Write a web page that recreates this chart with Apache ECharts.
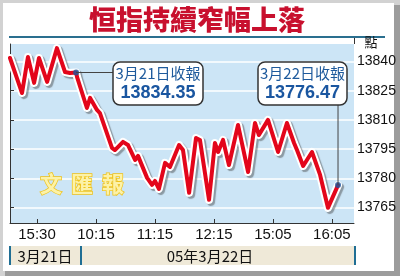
<!DOCTYPE html>
<html><head><meta charset="utf-8">
<style>html,body{margin:0;padding:0;background:#fff;}#c{width:400px;height:276px;}</style>
<script src="https://cdn.jsdelivr.net/npm/echarts@6/dist/echarts.min.js"></script>
</head><body><div id="c"></div>
<script>
// Timeline position (index units along the session axis) and index level
var xPos = [0,4.9,7.3,9.8,11.8,15.1,19.1,22.4,24.4,26.9,
  27.3,31.3,32.6,35.4,36.6,41.5,42.7,46.0,48.0,50.9,52.1,55.8,57.8,59.0,60.6,63.1,65.1,68.8,70.4,72.9,
  75.7,77.3,81.0,83.4,84.7,86.7,89.1,92.8,96.9,99.7,101.3,105.0,109.1,112.7,115.6,116.8,119.3,122.9,126.2,129.4,133.5];
var hsi = [13841.8,13823.8,13842.3,13829.0,13841.8,13829.5,13846.9,13834.6,13834.1,13834.35,
  13832.0,13816.1,13821.3,13815.1,13813.5,13795.6,13794.5,13798.7,13797.1,13789.4,13791.5,13780.2,13776.6,13778.6,13774.5,13787.9,13785.8,13797.1,13794.5,13772.5,
  13800.7,13799.7,13768.9,13798.1,13793.5,13799.7,13786.8,13807.4,13783.2,13808.4,13802.2,13810.0,13793.5,13808.4,13798.1,13794.5,13786.3,13793.5,13781.7,13764.8,13776.47];
var closeIdx = [9, 50];
var closeLabels = ['3月21日收報','3月22日收報'];
var closeValues = ['13834.35','13776.47'];
var xTickPos = [11,35,59,83,107,131];
var xLabels = ['15:30','10:15','11:15','12:15','15:05','16:05'];
var yTicks = [13765,13780,13795,13810,13825,13840];
var title = '恒指持續窄幅上落';
var unitLabel = '點';
var day1Label = '3月21日';
var day2Label = '05年3月22日';
var watermark = ['文','匯','報'];

var pts = xPos.map(function(x,i){return [x,hsi[i]];});
var closePts = closeIdx.map(function(i){return [xPos[i],hsi[i]];});

var chart = echarts.init(document.getElementById('c'), null, {renderer:'canvas'});
var numFont = '"Liberation Sans", Arial, sans-serif';
var cjk = '"Noto Sans CJK TC", "Noto Sans CJK SC", sans-serif';

var option = {
  animation:false,
  backgroundColor:'transparent',
  grid:{left:10,right:46,top:44,bottom:53,show:true,backgroundColor:'#cce5f6',borderWidth:0},
  xAxis:{type:'value',min:0,max:140,
    axisLine:{show:true,onZero:false,lineStyle:{color:'#333',width:1}},
    axisTick:{show:true,inside:true,length:4,customValues:xTickPos,lineStyle:{color:'#333'}},
    axisLabel:{customValues:xTickPos,margin:4,fontSize:15,color:'#111',fontFamily:numFont,
      formatter:function(v){var k=xTickPos.indexOf(v);return k>=0?xLabels[k]:'';}},
    splitLine:{show:false}},
  yAxis:{type:'value',position:'right',min:13757,max:13849,
    axisLine:{show:true,lineStyle:{color:'#333',width:1}},
    axisTick:{show:true,inside:false,length:4,customValues:yTicks,lineStyle:{color:'#333'}},
    axisLabel:{customValues:yTicks,margin:3,fontSize:14,color:'#111',fontFamily:numFont,
      formatter:function(v){return String(v);}},
    splitLine:{show:true,lineStyle:{color:'#ffffff',width:1.5}}},
  series:[
    {type:'line',data:pts,symbol:'none',z:2,silent:true,
      lineStyle:{color:'#ffffff',width:8,cap:'round',join:'round',shadowColor:'rgba(60,60,60,0.45)',shadowOffsetX:2,shadowOffsetY:2,shadowBlur:1}},
    {type:'line',data:pts,symbol:'none',z:3,silent:true,
      lineStyle:{color:'#e3061b',width:4,cap:'round',join:'round'}},
    {type:'scatter',data:closePts,symbol:'circle',symbolSize:6,z:6,itemStyle:{color:'#1a56a0'}}
  ]
};
chart.setOption(option);

var p1 = chart.convertToPixel({gridIndex:0}, closePts[0]);
var p2 = chart.convertToPixel({gridIndex:0}, closePts[1]);
var box1 = {x:113,y:62,w:90,h:43};
var box2 = {x:258,y:62,w:89,h:43};

function boxEls(b, i){
  return [
    {type:'rect',shape:{x:b.x,y:b.y,width:b.w,height:b.h,r:7},style:{fill:'#fff',stroke:'#333',lineWidth:1.5},z:20},
    {type:'text',x:b.x+b.w/2,y:b.y+11,style:{text:closeLabels[i],fill:'#1e5a9c',font:'15px '+cjk,textAlign:'center',textVerticalAlign:'middle'},z:21},
    {type:'text',x:b.x+b.w/2,y:b.y+31,style:{text:closeValues[i],fill:'#1a56a0',font:'bold 18px '+numFont,textAlign:'center',textVerticalAlign:'middle'},z:21}
  ];
}

var g = [
  // outer frame
  {type:'rect',shape:{x:0,y:0,width:400,height:276},style:{fill:'#d2d2d2'},z:-10,silent:true},
  {type:'rect',shape:{x:5,y:5,width:395,height:271},style:{fill:'#9c9c9c'},z:-9,silent:true},
  {type:'rect',shape:{x:3,y:3,width:391,height:268},style:{fill:'#ffffff'},z:-8,silent:true},
  // title
  {type:'text',x:197,y:20,style:{text:title,fill:'#c8102e',font:'900 27px '+cjk,textAlign:'center',textVerticalAlign:'middle'},z:5},
  {type:'line',shape:{x1:9,y1:37,x2:385,y2:37},style:{stroke:'#2a6f8f',lineWidth:2},z:5},
  {type:'text',x:371,y:42,style:{text:unitLabel,fill:'#111',font:'13px '+cjk,textAlign:'center',textVerticalAlign:'middle'},z:5},
  {type:'line',shape:{x1:354.5,y1:38,x2:354.5,y2:44},style:{stroke:'#333',lineWidth:1},z:5},
  // bottom strip
  {type:'rect',shape:{x:10,y:246,width:345,height:19},style:{fill:'#efe9d8'},z:5},
  {type:'rect',shape:{x:9,y:246,width:2,height:19},style:{fill:'#1f6e94'},z:6},
  {type:'rect',shape:{x:80,y:246,width:2,height:19},style:{fill:'#1f6e94'},z:6},
  {type:'rect',shape:{x:354,y:246,width:2,height:19},style:{fill:'#1f6e94'},z:6},
  {type:'text',x:45,y:256,style:{text:day1Label,fill:'#111',font:'15px '+cjk,textAlign:'center',textVerticalAlign:'middle'},z:6},
  {type:'text',x:210,y:256,style:{text:day2Label,fill:'#111',font:'15px '+cjk,textAlign:'center',textVerticalAlign:'middle'},z:6},
  // leader lines
  {type:'line',shape:{x1:p1[0],y1:p1[1],x2:box1.x,y2:p1[1]},style:{stroke:'#444',lineWidth:1},z:15},
  {type:'line',shape:{x1:p2[0],y1:p2[1],x2:p2[0],y2:box2.y+box2.h},style:{stroke:'#444',lineWidth:1},z:15}
];
watermark.forEach(function(ch,i){
  g.push({type:'text',x:51+i*31,y:184,style:{text:ch,fill:'#fcf2a8',stroke:'#efc21a',lineWidth:1.5,font:'bold 22px '+cjk,textAlign:'center',textVerticalAlign:'middle'},z:1});
});
g = g.concat(boxEls(box1,0), boxEls(box2,1));
chart.setOption({graphic:{elements:g}});
</script></body></html>
